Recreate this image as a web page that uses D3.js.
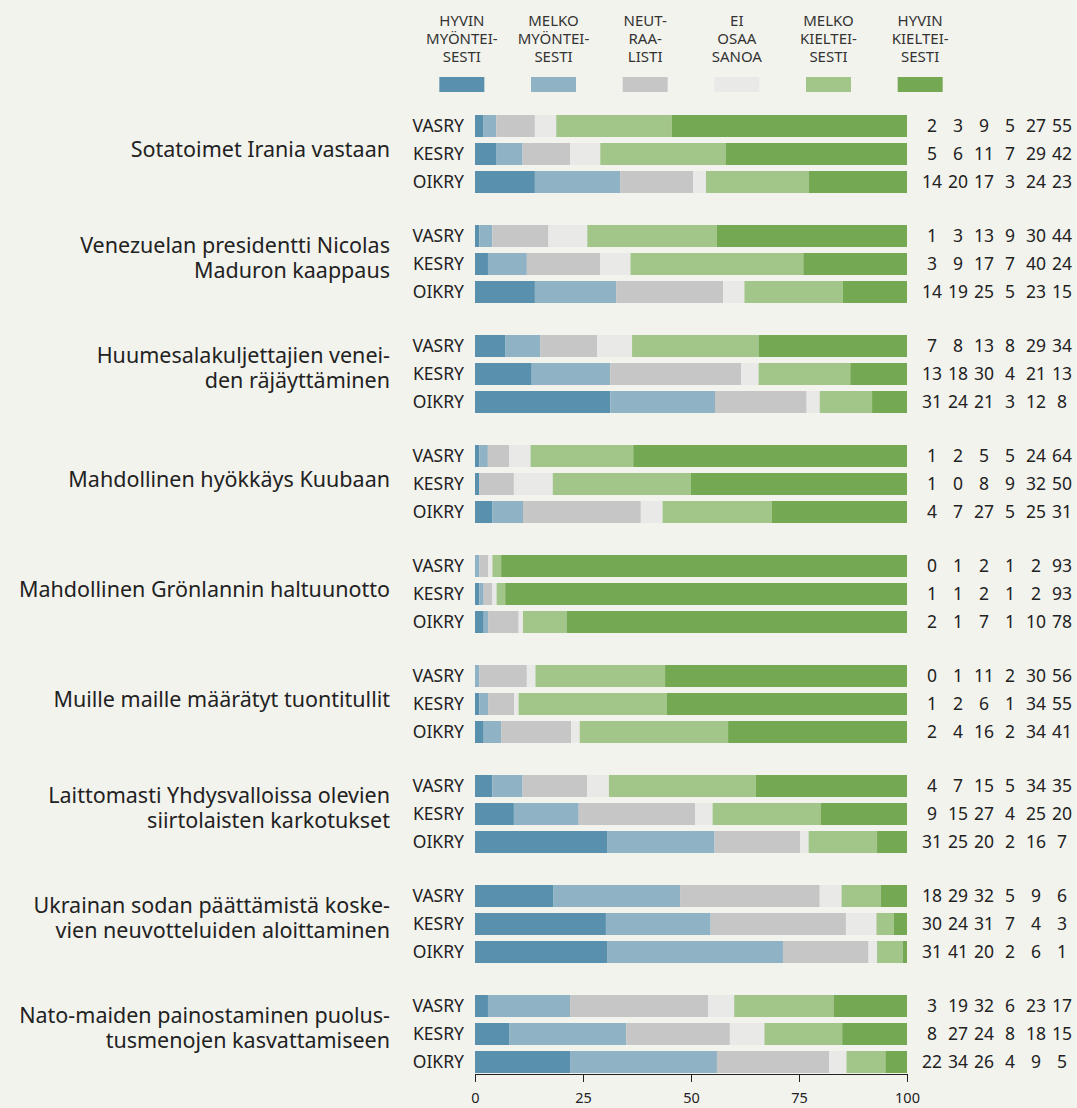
<!DOCTYPE html>
<html>
<head>
<meta charset="utf-8">
<script src="https://cdn.jsdelivr.net/npm/d3@7"></script>
<style>
  body { margin: 0; background: #f3f3ee; }
  svg { display: block; font-family: "Noto Sans", "Open Sans", sans-serif; }
</style>
</head>
<body>
<div id="chart"></div>
<script>
// answer categories (legend), three lines each
var answers = [
  ["HYVIN", "MYÖNTEI-", "SESTI"],
  ["MELKO", "MYÖNTEI-", "SESTI"],
  ["NEUT-", "RAA-", "LISTI"],
  ["EI", "OSAA", "SANOA"],
  ["MELKO", "KIELTEI-", "SESTI"],
  ["HYVIN", "KIELTEI-", "SESTI"]
];
var colors = ["#5990ae", "#8fb2c5", "#c6c6c6", "#e9e9e8", "#a2c58a", "#74a853"];

// question labels (split into lines)
var questions = [
  ["Sotatoimet Irania vastaan"],
  ["Venezuelan presidentti Nicolas", "Maduron kaappaus"],
  ["Huumesalakuljettajien venei-", "den räjäyttäminen"],
  ["Mahdollinen hyökkäys Kuubaan"],
  ["Mahdollinen Grönlannin haltuunotto"],
  ["Muille maille määrätyt tuontitullit"],
  ["Laittomasti Yhdysvalloissa olevien", "siirtolaisten karkotukset"],
  ["Ukrainan sodan päättämistä koske-", "vien neuvotteluiden aloittaminen"],
  ["Nato-maiden painostaminen puolus-", "tusmenojen kasvattamiseen"]
];
var groups = ["VASRY", "KESRY", "OIKRY"];

// percentages per question, one array per group (VASRY, KESRY, OIKRY)
var vasry = [
  [2, 3, 9, 5, 27, 55],
  [1, 3, 13, 9, 30, 44],
  [7, 8, 13, 8, 29, 34],
  [1, 2, 5, 5, 24, 64],
  [0, 1, 2, 1, 2, 93],
  [0, 1, 11, 2, 30, 56],
  [4, 7, 15, 5, 34, 35],
  [18, 29, 32, 5, 9, 6],
  [3, 19, 32, 6, 23, 17]
];
var kesry = [
  [5, 6, 11, 7, 29, 42],
  [3, 9, 17, 7, 40, 24],
  [13, 18, 30, 4, 21, 13],
  [1, 0, 8, 9, 32, 50],
  [1, 1, 2, 1, 2, 93],
  [1, 2, 6, 1, 34, 55],
  [9, 15, 27, 4, 25, 20],
  [30, 24, 31, 7, 4, 3],
  [8, 27, 24, 8, 18, 15]
];
var oikry = [
  [14, 20, 17, 3, 24, 23],
  [14, 19, 25, 5, 23, 15],
  [31, 24, 21, 3, 12, 8],
  [4, 7, 27, 5, 25, 31],
  [2, 1, 7, 1, 10, 78],
  [2, 4, 16, 2, 34, 41],
  [31, 25, 20, 2, 16, 7],
  [31, 41, 20, 2, 6, 1],
  [22, 34, 26, 4, 9, 5]
];
var ticks = [0, 25, 50, 75, 100];

var width = 1077, height = 1108;
var svg = d3.select("#chart").append("svg").attr("width", width).attr("height", height);

var x = d3.scaleLinear().domain([0, 100]).range([475, 907]);
var groupY = d3.scaleBand().domain(d3.range(questions.length)).range([115, 1105]);
var rowY = d3.scaleBand().domain(groups).range([0, 78]).paddingInner(6 / 28);
var legendX = d3.scaleBand().domain(d3.range(answers.length)).range([416, 966]);
var numX = d3.scaleBand().domain(d3.range(6)).range([919, 1075]);

// legend
var leg = svg.append("g").selectAll("g").data(answers).enter().append("g")
    .attr("transform", function(d, i) { return "translate(" + (legendX(i) + legendX.bandwidth() / 2) + ",0)"; });
leg.each(function(lines) {
  var g = d3.select(this);
  lines.forEach(function(t, j) {
    g.append("text").attr("y", 26 + j * 18).attr("text-anchor", "middle")
      .attr("font-size", 15).attr("fill", "#333").text(t);
  });
});
leg.append("rect").attr("x", -22.5).attr("y", 77).attr("width", 45).attr("height", 15)
  .attr("fill", function(d, i) { return colors[i]; });

// rows
var all = [vasry, kesry, oikry];
questions.forEach(function(q, qi) {
  var g = svg.append("g").attr("transform", "translate(0," + groupY(qi) + ")");
  var mid = rowY("KESRY") + rowY.bandwidth() / 2;
  // baseline positions, lines 25px apart
  q.forEach(function(line, li) {
    g.append("text").attr("x", 390).attr("y", mid + (q.length > 1 ? 1 : 3) + (li - (q.length - 1) / 2) * 25)
      .attr("text-anchor", "end").attr("font-size", 21.5)
      .attr("fill", "#222").text(line);
  });
  groups.forEach(function(grp, gi) {
    var vals = all[gi][qi];
    var total = d3.sum(vals);
    var cum = 0;
    var segs = vals.map(function(v, i) {
      var s = { x0: cum / total * 100, x1: (cum + v) / total * 100, i: i };
      cum += v;
      return s;
    });
    var ry = rowY(grp);
    g.append("text").attr("x", 464).attr("y", ry + rowY.bandwidth() / 2).attr("dy", "0.35em")
      .attr("text-anchor", "end").attr("font-size", 17.5).attr("fill", "#222").text(grp);
    g.selectAll(null).data(segs).enter().append("rect")
      .attr("x", function(d) { return x(d.x0); })
      .attr("width", function(d) { return x(d.x1) - x(d.x0); })
      .attr("y", ry).attr("height", rowY.bandwidth())
      .attr("fill", function(d) { return colors[d.i]; });
    g.selectAll(null).data(vals).enter().append("text")
      .attr("x", function(d, i) { return numX(i) + numX.bandwidth() / 2; })
      .attr("y", ry + rowY.bandwidth() / 2).attr("dy", "0.35em")
      .attr("text-anchor", "middle").attr("font-size", 17.5).attr("fill", "#222")
      .text(function(d) { return d; });
  });
});

// axis
var axis = svg.append("g").attr("transform", "translate(0,1074)")
  .call(d3.axisBottom(x).tickValues(ticks).tickSize(8).tickSizeOuter(0));
axis.select(".domain").attr("stroke", "#222");
axis.selectAll(".tick line").attr("stroke", "#222");
axis.selectAll(".tick text").attr("font-size", 14.5).attr("fill", "#222").attr("y", 19)
  .attr("font-family", "Noto Sans, sans-serif");
</script>
</body>
</html>
